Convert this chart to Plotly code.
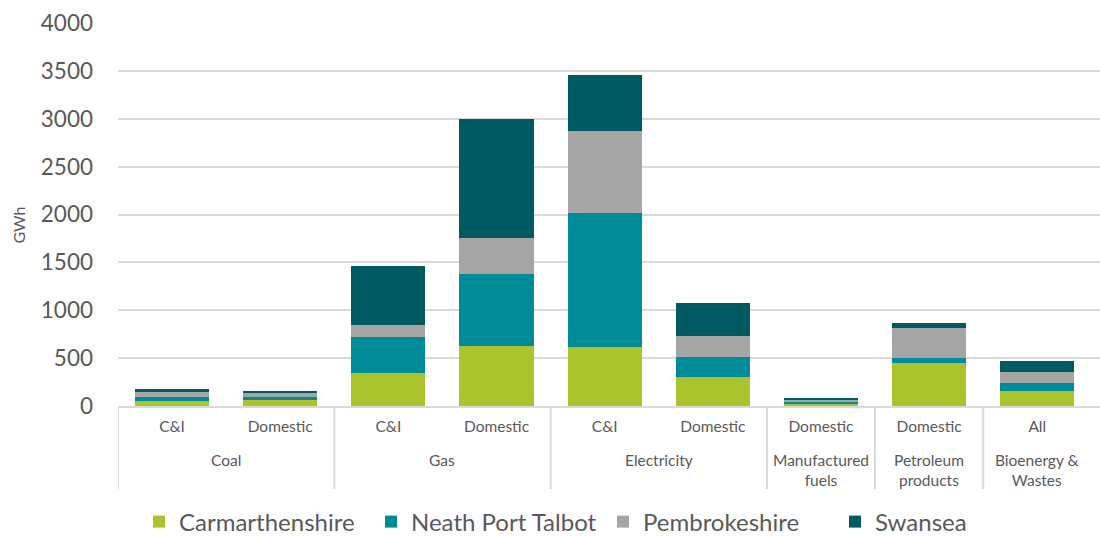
import plotly.graph_objects as go

# fuel groups and sectors
fuels = ["Coal", "Coal", "Gas", "Gas", "Electricity", "Electricity",
         "Manufactured<br>fuels", "Petroleum<br>products", "Bioenergy &<br>Wastes"]
sectors = ["C&I", "Domestic", "C&I", "Domestic", "C&I", "Domestic",
           "Domestic", "Domestic", "All"]

# GWh by local authority
carmarthenshire = [50, 65, 348, 626, 619, 300, 30, 452, 160]
neath_port_talbot = [45, 28, 375, 749, 1393, 215, 15, 46, 83]
pembrokeshire = [60, 42, 123, 379, 859, 216, 20, 313, 115]
swansea = [18, 25, 619, 1243, 585, 348, 15, 59, 115]

series = [
    ("Carmarthenshire", carmarthenshire, "#A9C42C"),
    ("Neath Port Talbot", neath_port_talbot, "#008B99"),
    ("Pembrokeshire", pembrokeshire, "#A5A5A5"),
    ("Swansea", swansea, "#005A62"),
]

keys = [f + " / " + s for f, s in zip(fuels, sectors)]

fig = go.Figure()
for name, vals, col in series:
    fig.add_trace(go.Bar(x=keys, y=vals, name=name,
                         marker=dict(color=col, line=dict(width=0))))

grey = "#595959"
line_grey = "#D9D9D9"
ph = 383  # plot height in px

# group labels and dividers below the axis
groups = []
for i, f in enumerate(fuels):
    if groups and groups[-1][0] == f:
        groups[-1][2] = i
    else:
        groups.append([f, i, i])

for f, a, b in groups:
    fig.add_annotation(x=(a + b) / 2, y=-43 / ph, xref="x", yref="paper",
                       text=f, showarrow=False, yanchor="top",
                       font=dict(size=15.5, color=grey))
    fig.add_shape(type="line", xref="x", yref="paper", x0=a - 0.5, x1=a - 0.5,
                  y0=0, y1=-83 / ph, line=dict(color=line_grey, width=2))

fig.add_annotation(x=-112 / 982, y=181 / ph, xref="paper", yref="paper", text="GWh",
                   textangle=-90, showarrow=False, font=dict(size=16, color=grey))

font = "Lato, 'Open Sans', sans-serif"
fig.update_layout(
    barmode="stack",
    bargap=0.315,
    width=1100, height=536,
    margin=dict(l=118, r=0, t=23, b=130, autoexpand=False),
    plot_bgcolor="white", paper_bgcolor="white",
    font=dict(family=font, color=grey),
    legend=dict(orientation="h", x=21 / 982, xanchor="left", y=-116 / ph, yanchor="middle",
                font=dict(size=24, color=grey), traceorder="normal",
                entrywidth=187, entrywidthmode="pixels"),
    yaxis=dict(range=[0, 4000], dtick=500, showgrid=True, gridcolor=line_grey,
               gridwidth=1.5, zeroline=False, showline=False, automargin=False,
               ticklabelstandoff=24, tickfont=dict(size=22.5, color=grey)),
    xaxis=dict(range=[-0.5, 8.58], showline=True, linecolor=line_grey, linewidth=2,
               automargin=False, tickvals=keys, ticktext=sectors, ticklabelstandoff=5,
               tickfont=dict(size=15.5, color=grey)),
)

fig.write_html("out.html", config={"displayModeBar": False},
               post_script="document.body.style.margin='0';")
